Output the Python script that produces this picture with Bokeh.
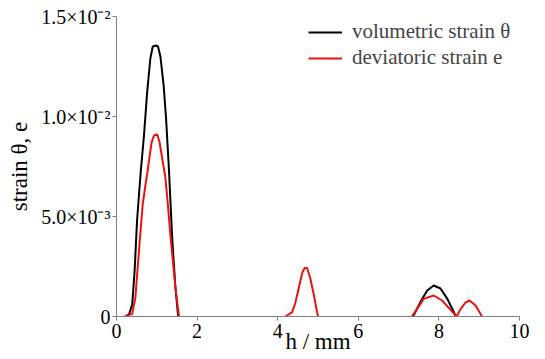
import numpy as np
from bokeh.plotting import figure
from bokeh.models import FixedTicker, Legend, LegendItem, Range1d
from bokeh.embed import file_html
from bokeh.resources import INLINE

nan = float("nan")

# volumetric strain theta (two segments separated by NaN)
h_vol = [0.22, 0.31, 0.39, 0.45, 0.51, 0.60, 0.68, 0.76, 0.84, 0.90, 0.98, 1.03, 1.09, 1.17, 1.23, 1.30, 1.38, 1.46, 1.53,
         nan,
         7.36, 7.54, 7.71, 7.87, 8.04, 8.21, 8.35, 8.42]
vol = [0.0, 0.0001, 0.0006, 0.0023, 0.0048, 0.0072, 0.0090, 0.0112, 0.0129, 0.0135, 0.01355, 0.0135, 0.0130, 0.01155, 0.0099, 0.0074, 0.0040, 0.0015, 0.0,
       nan,
       0.0, 0.00072, 0.0013, 0.00155, 0.0014, 0.00088, 0.0003, 0.0]

# deviatoric strain e
h_dev = [0.20, 0.39, 0.47, 0.55, 0.65, 0.72, 0.76, 0.80, 0.87, 0.93, 1.00, 1.02, 1.07, 1.15, 1.21, 1.27, 1.34, 1.46, 1.55,
         nan,
         4.19, 4.36, 4.44, 4.52, 4.61, 4.67, 4.73, 4.81, 4.90, 4.95, 5.00,
         nan,
         7.33, 7.46, 7.62, 7.87, 8.08, 8.29, 8.44, 8.54, 8.66, 8.76, 8.91, 9.07]
dev = [0.0, 0.00013, 0.00097, 0.0031, 0.0056, 0.0066, 0.0071, 0.0077, 0.0087, 0.00905, 0.0091, 0.00905, 0.0087, 0.0077, 0.0070, 0.0057, 0.0040, 0.0015, 0.0,
       nan,
       0.0, 0.00022, 0.0007, 0.0014, 0.0022, 0.00242, 0.00242, 0.0019, 0.00105, 0.0005, 0.0,
       nan,
       0.0, 0.00038, 0.00088, 0.00105, 0.0008, 0.00033, 0.0, 0.00038, 0.0007, 0.0008, 0.00055, 0.0]

x_ticks = [0, 2, 4, 6, 8, 10]
y_ticks = [0, 0.005, 0.01, 0.015]
y_tick_labels = ["0", "5.0×10⁻³", "1.0×10⁻²", "1.5×10⁻²"]
x_title = "h / mm"
y_title = "strain θ, e"
series_names = ["volumetric strain θ", "deviatoric strain e"]

FONT = "'Liberation Serif', 'Times New Roman', serif"

p = figure(width=545, height=359, output_backend="svg", toolbar_location=None,
           x_range=Range1d(0, 10), y_range=Range1d(0, 0.015),
           min_border_left=116, min_border_right=26, min_border_top=16, min_border_bottom=43)
p.outline_line_color = None
p.xgrid.visible = False
p.ygrid.visible = False
p.background_fill_color = "white"
p.border_fill_color = "white"

r_vol = p.line(h_vol, vol, line_color="black", line_width=2)
r_dev = p.line(h_dev, dev, line_color="#ee1111", line_width=2)

for ax in (p.xaxis[0], p.yaxis[0]):
    ax.axis_line_color = "#808080"
    ax.major_tick_line_color = "#808080"
    ax.minor_tick_line_color = None
    ax.major_tick_out = 4
    ax.major_tick_in = 0
    ax.major_label_text_font = FONT
    ax.major_label_text_font_size = "20px"
    ax.major_label_text_font_style = "normal"
    ax.major_label_text_color = "black"
    ax.axis_label_text_font = FONT
    ax.axis_label_text_font_size = "23px"
    ax.axis_label_text_font_style = "normal"
    ax.axis_label_text_color = "black"

p.xaxis[0].ticker = FixedTicker(ticks=x_ticks)
p.xaxis[0].major_label_standoff = 3
p.xaxis[0].axis_label = x_title
p.xaxis[0].axis_label_standoff = -12

p.yaxis[0].ticker = FixedTicker(ticks=y_ticks)
p.yaxis[0].major_label_overrides = {t: s for t, s in zip(y_ticks, y_tick_labels)}
p.yaxis[0].major_label_standoff = 2
p.yaxis[0].axis_label = y_title
p.yaxis[0].axis_label_standoff = 6

legend = Legend(items=[LegendItem(label=series_names[0], renderers=[r_vol]),
                       LegendItem(label=series_names[1], renderers=[r_dev])],
                location=(192, 246), padding=0, margin=0, spacing=1,
                glyph_width=34, glyph_height=20, label_height=20, label_standoff=10,
                label_text_font=FONT, label_text_font_size="21px",
                label_text_font_style="normal",
                border_line_color=None, background_fill_alpha=0)
p.add_layout(legend)

open("out.html", "w").write(file_html(p, INLINE))
